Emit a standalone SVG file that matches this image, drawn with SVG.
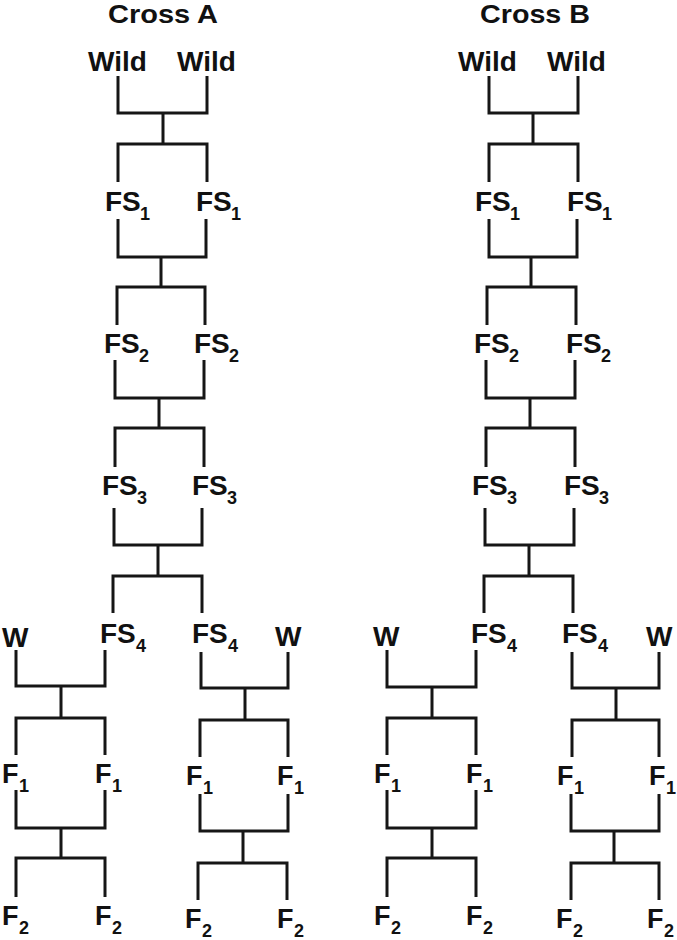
<svg xmlns="http://www.w3.org/2000/svg" width="677" height="940" viewBox="0 0 677 940">
<style>
.t{font-family:"Liberation Sans",Arial,sans-serif;font-weight:bold;font-size:26px;fill:#111;text-anchor:middle}
.l{font-family:"Liberation Sans",Arial,sans-serif;font-weight:bold;font-size:28px;fill:#111}
.f{font-family:"Liberation Sans",Arial,sans-serif;font-weight:bold;font-size:27px;fill:#111}
.s{font-family:"Liberation Sans",Arial,sans-serif;font-weight:bold;font-size:18px;fill:#111}
.c path{fill:none;stroke:#161616;stroke-width:3;stroke-linejoin:miter;stroke-linecap:butt}
</style>
<rect width="677" height="940" fill="#fff"/>
<g class="c" id="connectors">
<path d="M118 76V113H207V76M163 113V144M118 182V144H207V182"/>
<path d="M118 219V257H206V219M161 257V287M117 325V287H205V325"/>
<path d="M115 360V398H204V360M159 398V428M115 467V428H204V467"/>
<path d="M114 508V545H202V508M158 545V576M113 613V576H202V613"/>
<path d="M16 650V686H105V650M61 686V718M16 755V718H105V755"/>
<path d="M16 790V828H105V790M61 828V858M16 897V858H105V897"/>
<path d="M201 652V688H288V652M245 688V720M200 757V720H288V757"/>
<path d="M200 794V831H288V794M243 831V863M198 900V863H287V900"/>
<path d="M489 76V113H578V76M533 113V144M489 182V144H578V182"/>
<path d="M489 219V257H577V219M531 257V287M487 325V287H576V325"/>
<path d="M486 360V398H575V360M530 398V428M486 467V428H575V467"/>
<path d="M485 508V545H574V508M529 545V576M484 613V576H573V613"/>
<path d="M387 650V687H476V650M432 687V718M387 755V718H476V755"/>
<path d="M387 790V828H476V790M432 828V858M387 897V858H476V897"/>
<path d="M572 652V688H659V652M616 688V720M572 757V720H659V757"/>
<path d="M571 794V831H659V794M614 831V863M571 900V863H659V900"/>
</g>
<g id="a-title"><text class="t" x="163" y="23" textLength="110" lengthAdjust="spacingAndGlyphs">Cross A</text></g>
<g id="a-wild-l"><text class="l" x="88" y="71">Wild</text></g>
<g id="a-wild-r"><text class="l" x="177" y="71">Wild</text></g>
<g id="a-fs1-l"><text class="l" x="105" y="211">FS</text><text class="s" x="140" y="220">1</text></g>
<g id="a-fs1-r"><text class="l" x="196" y="211">FS</text><text class="s" x="231" y="220">1</text></g>
<g id="a-fs2-l"><text class="l" x="104" y="353">FS</text><text class="s" x="139" y="362">2</text></g>
<g id="a-fs2-r"><text class="l" x="194" y="353">FS</text><text class="s" x="229" y="362">2</text></g>
<g id="a-fs3-l"><text class="l" x="102" y="495">FS</text><text class="s" x="137" y="504">3</text></g>
<g id="a-fs3-r"><text class="l" x="192" y="495">FS</text><text class="s" x="227" y="504">3</text></g>
<g id="a-fs4-l"><text class="l" x="100" y="643">FS</text><text class="s" x="136" y="652">4</text></g>
<g id="a-fs4-r"><text class="l" x="192" y="643">FS</text><text class="s" x="228" y="652">4</text></g>
<g id="a-w-l"><text class="l" x="2" y="647">W</text></g>
<g id="a-w-r"><text class="l" x="275" y="646">W</text></g>
<g id="a-f1-ll"><text class="f" x="2" y="783">F</text><text class="s" x="19" y="792">1</text></g>
<g id="a-f1-lr"><text class="f" x="95" y="783">F</text><text class="s" x="112" y="792">1</text></g>
<g id="a-f1-rl"><text class="f" x="186" y="785">F</text><text class="s" x="203" y="794">1</text></g>
<g id="a-f1-rr"><text class="f" x="277" y="785">F</text><text class="s" x="294" y="794">1</text></g>
<g id="a-f2-ll"><text class="f" x="2" y="925">F</text><text class="s" x="19" y="934">2</text></g>
<g id="a-f2-lr"><text class="f" x="95" y="925">F</text><text class="s" x="112" y="934">2</text></g>
<g id="a-f2-rl"><text class="f" x="185" y="928">F</text><text class="s" x="202" y="937">2</text></g>
<g id="a-f2-rr"><text class="f" x="277" y="928">F</text><text class="s" x="294" y="937">2</text></g>
<g id="b-title"><text class="t" x="535" y="23" textLength="110" lengthAdjust="spacingAndGlyphs">Cross B</text></g>
<g id="b-wild-l"><text class="l" x="458" y="71">Wild</text></g>
<g id="b-wild-r"><text class="l" x="547" y="71">Wild</text></g>
<g id="b-fs1-l"><text class="l" x="475" y="211">FS</text><text class="s" x="510" y="220">1</text></g>
<g id="b-fs1-r"><text class="l" x="567" y="211">FS</text><text class="s" x="602" y="220">1</text></g>
<g id="b-fs2-l"><text class="l" x="474" y="353">FS</text><text class="s" x="509" y="362">2</text></g>
<g id="b-fs2-r"><text class="l" x="566" y="353">FS</text><text class="s" x="601" y="362">2</text></g>
<g id="b-fs3-l"><text class="l" x="472" y="495">FS</text><text class="s" x="507" y="504">3</text></g>
<g id="b-fs3-r"><text class="l" x="564" y="495">FS</text><text class="s" x="599" y="504">3</text></g>
<g id="b-fs4-l"><text class="l" x="471" y="643">FS</text><text class="s" x="507" y="652">4</text></g>
<g id="b-fs4-r"><text class="l" x="562" y="643">FS</text><text class="s" x="598" y="652">4</text></g>
<g id="b-w-l"><text class="l" x="373" y="646">W</text></g>
<g id="b-w-r"><text class="l" x="646" y="646">W</text></g>
<g id="b-f1-ll"><text class="f" x="374" y="783">F</text><text class="s" x="391" y="792">1</text></g>
<g id="b-f1-lr"><text class="f" x="466" y="783">F</text><text class="s" x="483" y="792">1</text></g>
<g id="b-f1-rl"><text class="f" x="557" y="785">F</text><text class="s" x="574" y="794">1</text></g>
<g id="b-f1-rr"><text class="f" x="649" y="785">F</text><text class="s" x="666" y="794">1</text></g>
<g id="b-f2-ll"><text class="f" x="374" y="925">F</text><text class="s" x="391" y="934">2</text></g>
<g id="b-f2-lr"><text class="f" x="466" y="925">F</text><text class="s" x="483" y="934">2</text></g>
<g id="b-f2-rl"><text class="f" x="556" y="928">F</text><text class="s" x="573" y="937">2</text></g>
<g id="b-f2-rr"><text class="f" x="647" y="928">F</text><text class="s" x="664" y="937">2</text></g>
</svg>
